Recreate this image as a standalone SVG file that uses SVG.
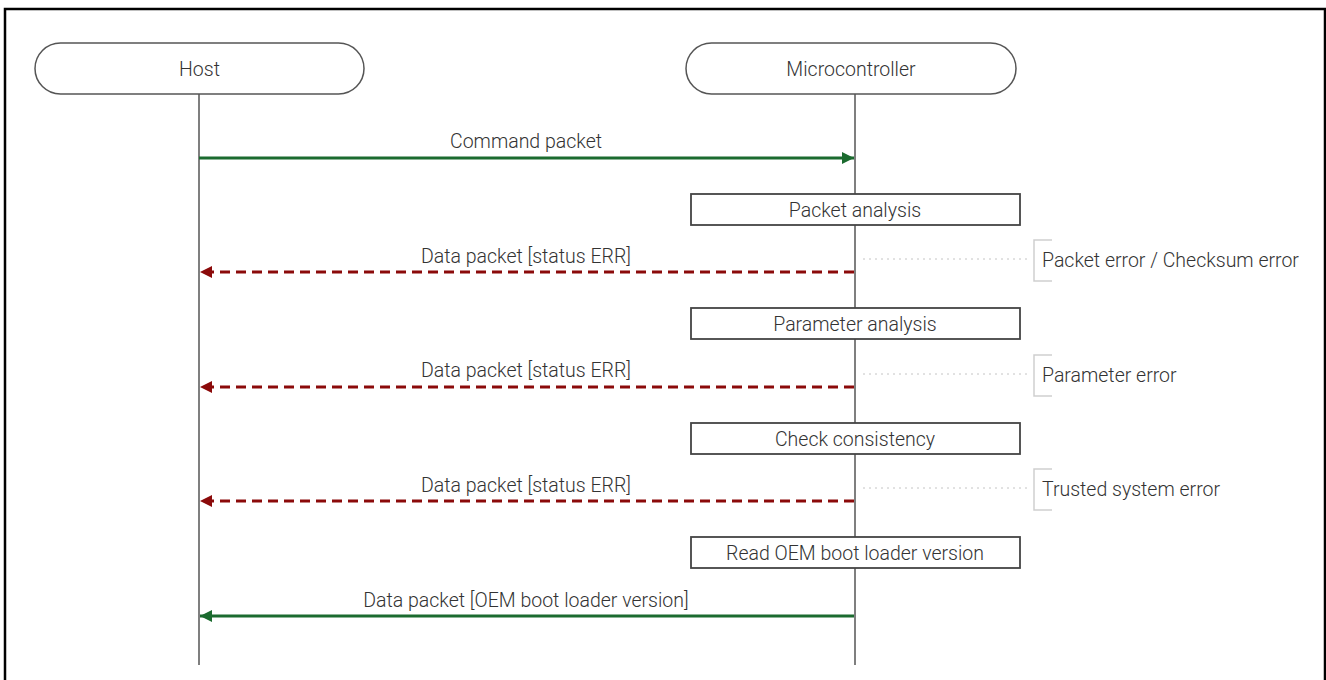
<svg xmlns="http://www.w3.org/2000/svg" width="1326" height="680" viewBox="0 0 1326 680">
<defs>
<marker id="ag" viewBox="0 0 10 10" refX="10" refY="5" markerWidth="4" markerHeight="4" orient="auto-start-reverse" markerUnits="strokeWidth"><path d="M0,0 L10,5 L0,10 z" fill="#1b6b2f"/></marker>
<marker id="ar" viewBox="0 0 10 10" refX="10" refY="5" markerWidth="4" markerHeight="4" orient="auto-start-reverse" markerUnits="strokeWidth"><path d="M0,0 L10,5 L0,10 z" fill="#8b0a0a"/></marker>
</defs>
<style>
text{font-family:Roboto,"Liberation Sans",sans-serif;font-size:19.5px;font-weight:300;fill:#333}
.c{text-anchor:middle}
.actor{fill:#fff;stroke:#555;stroke-width:1.5}
.act{fill:#fff;stroke:#444;stroke-width:1.8}
.life{stroke:#555;stroke-width:1.5;fill:none}
.ok{stroke:#1b6b2f;stroke-width:3;fill:none}
.err{stroke:#8b0a0a;stroke-width:3;fill:none;stroke-dasharray:10 6}
.dot{stroke:#c4c4c4;stroke-width:1;stroke-dasharray:2 4;fill:none}
.br{stroke:#cfcfcf;stroke-width:1.5;fill:none}
</style>
<rect x="0" y="0" width="1326" height="680" fill="#fff"/>
<path d="M5,681 V9 H1325 V681" fill="none" stroke="#000" stroke-width="2.5"/>

<g id="host">
<rect class="actor" x="35" y="43" width="329" height="51" rx="25.5"/>
<text class="c" x="199.5" y="76">Host</text>
<line class="life" x1="199" y1="94" x2="199" y2="665"/>
</g>
<g id="mcu">
<rect class="actor" x="686" y="43" width="330" height="51" rx="25.5"/>
<text class="c" x="851" y="76">Microcontroller</text>
<line class="life" x1="855" y1="94" x2="855" y2="665"/>
</g>

<g id="act1"><rect class="act" x="691" y="194" width="329" height="31"/><text class="c" x="855" y="217">Packet analysis</text></g>
<g id="act2"><rect class="act" x="691" y="308" width="329" height="31"/><text class="c" x="855" y="331">Parameter analysis</text></g>
<g id="act3"><rect class="act" x="691" y="423" width="329" height="31"/><text class="c" x="855" y="446">Check consistency</text></g>
<g id="act4"><rect class="act" x="691" y="537" width="329" height="31"/><text class="c" x="855" y="560">Read OEM boot loader version</text></g>

<g id="note1"><line class="dot" x1="863" y1="259" x2="1030" y2="259"/><path class="br" d="M1052,240 H1034 V281 H1052"/><text x="1042" y="267">Packet error / Checksum error</text></g>
<g id="note2"><line class="dot" x1="863" y1="374" x2="1030" y2="374"/><path class="br" d="M1052,355 H1034 V396 H1052"/><text x="1042" y="382">Parameter error</text></g>
<g id="note3"><line class="dot" x1="863" y1="488" x2="1030" y2="488"/><path class="br" d="M1052,469 H1034 V510 H1052"/><text x="1042" y="496">Trusted system error</text></g>

<g id="connectors">
<line class="ok" x1="199" y1="158" x2="854" y2="158" marker-end="url(#ag)"/>
<text class="c" x="526" y="148">Command packet</text>
<line class="err" x1="854" y1="272" x2="200" y2="272" marker-end="url(#ar)"/>
<text class="c" x="526" y="263">Data packet [status ERR]</text>
<line class="err" x1="854" y1="387" x2="200" y2="387" marker-end="url(#ar)"/>
<text class="c" x="526" y="377">Data packet [status ERR]</text>
<line class="err" x1="854" y1="501" x2="200" y2="501" marker-end="url(#ar)"/>
<text class="c" x="526" y="492">Data packet [status ERR]</text>
<line class="ok" x1="854" y1="616" x2="200" y2="616" marker-end="url(#ag)"/>
<text class="c" x="526" y="607">Data packet [OEM boot loader version]</text>
</g>
</svg>
